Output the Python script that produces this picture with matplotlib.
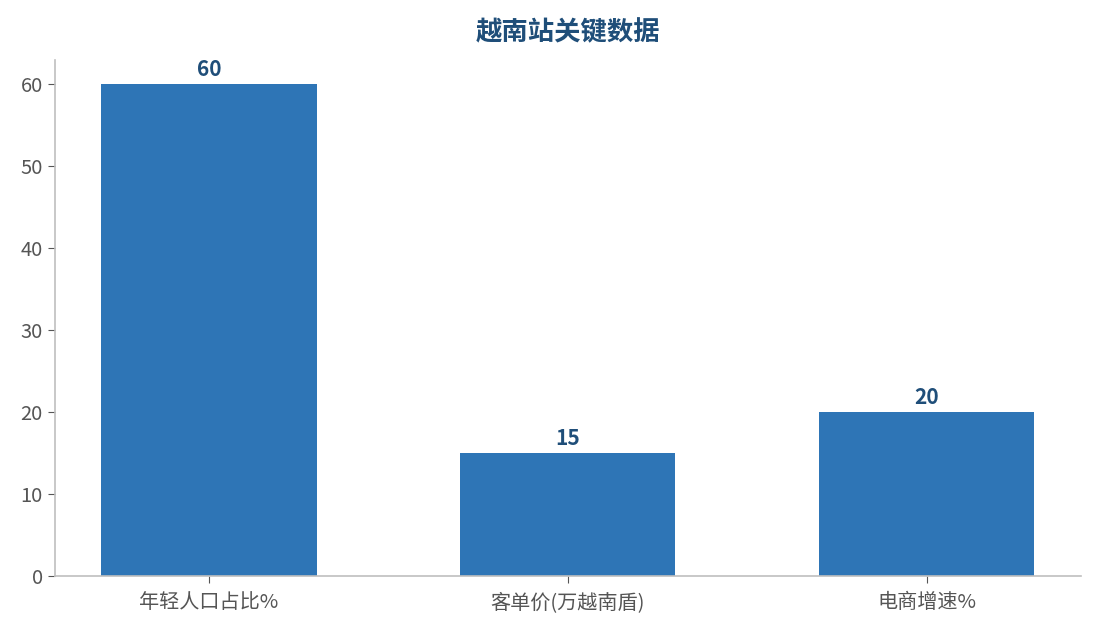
import matplotlib
matplotlib.use('Agg')
import matplotlib.pyplot as plt

plt.rcParams['font.family'] = ['Noto Sans CJK SC', 'DejaVu Sans']

# data
categories = ['年轻人口占比%', '客单价(万越南盾)', '电商增速%']
values = [60, 15, 20]

bar_color = '#2E75B6'
title_color = '#1F4E79'
text_gray = '#555555'
spine_gray = '#BFBFBF'

fig, ax = plt.subplots(figsize=(10.95, 6.29), dpi=100)
fig.subplots_adjust(left=0.05, right=0.987, top=0.905, bottom=0.085)

bars = ax.bar(categories, values, width=0.6, color=bar_color)

# value labels on top of bars
for b, v in zip(bars, values):
    ax.annotate(str(v), (b.get_x() + b.get_width() / 2, b.get_height()),
                xytext=(0, 3), textcoords='offset points',
                ha='center', va='bottom', fontsize=15, fontweight='bold',
                color=title_color)

ax.set_title('越南站关键数据', fontsize=19, fontweight='bold', color=title_color, pad=14)
ax.set_ylim(0, 63)

for s in ['top', 'right']:
    ax.spines[s].set_visible(False)
for s in ['left', 'bottom']:
    ax.spines[s].set_color(spine_gray)
    ax.spines[s].set_linewidth(1.2)

ax.tick_params(axis='both', colors=text_gray, labelsize=14.5)
ax.tick_params(axis='both', color='#555555', length=5)
ax.tick_params(axis='x', pad=7)

fig.savefig('out.png', dpi=100)
